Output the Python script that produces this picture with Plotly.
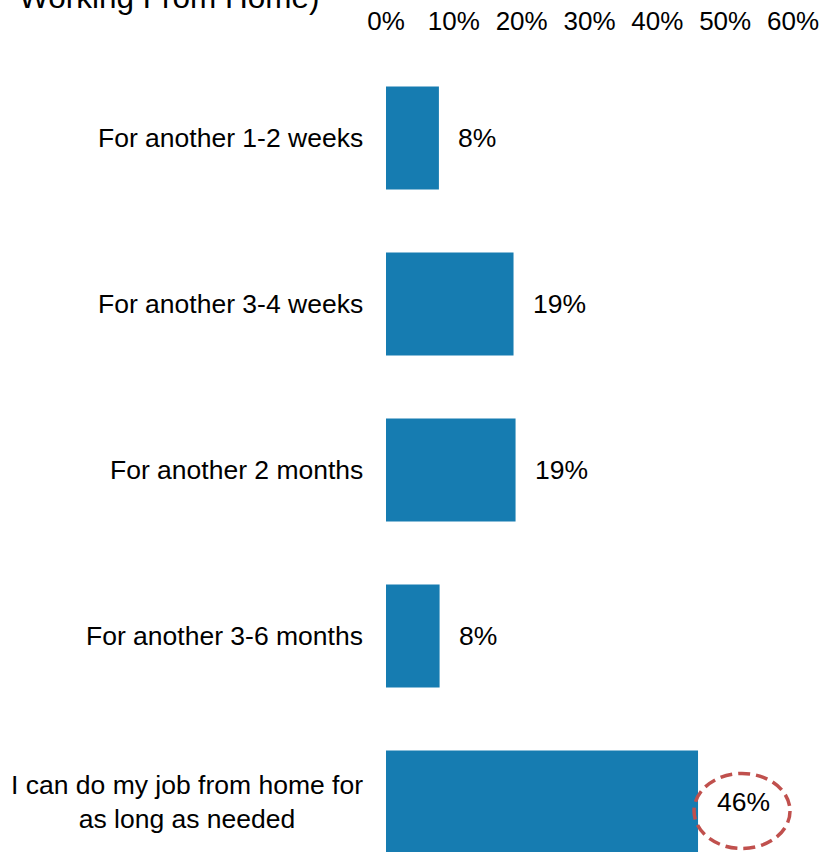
import plotly.graph_objects as go

# Survey answers and share of respondents
categories = [
    "For another 1-2 weeks",
    "For another 3-4 weeks",
    "For another 2 months",
    "For another 3-6 months",
    "I can do my job from home for<br>as long as needed",
]
shares = [0.078, 0.188, 0.191, 0.079, 0.46]
tick_values = [0, 0.1, 0.2, 0.3, 0.4, 0.5, 0.6]

FONT = "Arial, Liberation Sans, sans-serif"
BAR_COLOR = "#167cb1"
W, H = 823, 852
LEFT, RIGHT, TOP = 386, 30, 55
ROW_PX = 166  # pixel pitch of one category row
PLOT_W = W - LEFT - RIGHT

fig = go.Figure(
    go.Bar(
        x=shares,
        y=categories,
        orientation="h",
        marker=dict(color=BAR_COLOR, line=dict(width=0)),
        hoverinfo="skip",
    )
)

annotations = []
# Category labels, centred text block right-aligned next to the bars
for cat in categories:
    annotations.append(dict(
        x=-21 / PLOT_W, xref="paper", xanchor="right",
        y=cat, yref="y", yanchor="middle",
        text=cat, align="center", showarrow=False,
        font=dict(family=FONT, size=26.5, color="black"),
    ))
# Value labels just outside the bar ends
for cat, v in zip(categories, shares):
    annotations.append(dict(
        x=v, xref="x", xanchor="left", xshift=17,
        y=cat, yref="y", yanchor="middle",
        text=f"{round(v * 100)}%", showarrow=False,
        font=dict(family=FONT, size=26.5, color="black"),
    ))
# Title line
annotations.append(dict(
    x=-(LEFT - 17) / PLOT_W, xref="paper", xanchor="left",
    y=1 + (TOP + 3) / (H - TOP), yref="paper", yanchor="middle",
    text="Working From Home)", showarrow=False,
    font=dict(family=FONT, size=31.5, color="black"),
))

# Dashed ring highlighting the largest answer
top_idx = shares.index(max(shares))
shapes = [dict(
    type="circle", xref="x", yref="y",
    xsizemode="pixel", ysizemode="pixel",
    xanchor=shares[top_idx], yanchor=top_idx,
    x0=-4, x1=92, y0=-46.5, y1=28.5,
    line=dict(color="#c0504d", width=3.5, dash="12px,6px"),
    fillcolor="rgba(0,0,0,0)",
)]

fig.update_layout(
    width=W, height=H,
    margin=dict(l=LEFT, r=RIGHT, t=TOP, b=0, pad=0),
    paper_bgcolor="white", plot_bgcolor="white",
    bargap=0.38,
    showlegend=False,
    annotations=annotations,
    shapes=shapes,
    xaxis=dict(
        side="top", range=[0, 0.6], tickvals=tick_values, tickformat=".0%",
        showgrid=False, zeroline=False, showline=False, ticks="",
        ticklabelstandoff=19,
        tickfont=dict(family=FONT, size=26, color="black"),
        fixedrange=True,
    ),
    yaxis=dict(
        type="category", categoryorder="array", categoryarray=categories,
        range=[(H - TOP) / ROW_PX - 0.5, -0.5],
        showticklabels=False, showgrid=False, zeroline=False, showline=False,
        ticks="", fixedrange=True,
    ),
)

fig.write_html("out.html")
